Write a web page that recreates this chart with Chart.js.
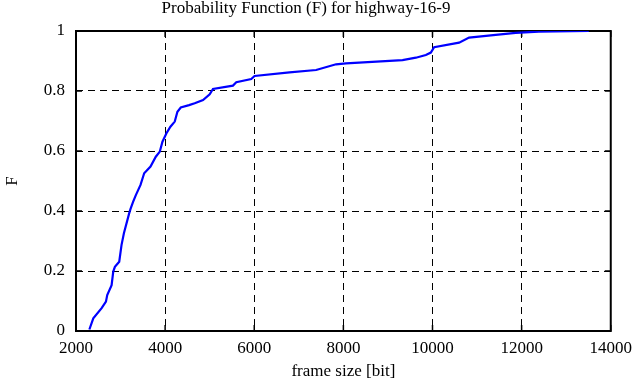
<!DOCTYPE html>
<html>
<head>
<meta charset="utf-8">
<script src="https://cdn.jsdelivr.net/npm/chart.js@4"></script>
<style>
  html, body { margin: 0; padding: 0; background: #fff; }
</style>
</head>
<body>
<canvas id="myChart" width="639" height="387"></canvas>
<script>
const frameSizes = [2300, 2388, 2575, 2672, 2701, 2799, 2836, 2873, 2970, 3022,
    3075, 3193, 3224, 3283, 3343, 3448, 3530, 3672, 3791, 3881,
    3940, 4030, 4119, 4216, 4276, 4351, 4537, 4664, 4851, 5000,
    5074, 5522, 5597, 5933, 6007, 6791, 7388, 7836, 8060, 9328,
    9627, 9851, 9963, 10037, 10597, 10821, 11418, 11866, 12388, 13507];
const probs = [0.005, 0.042, 0.076, 0.098, 0.120, 0.153, 0.198, 0.214, 0.231, 0.287,
    0.326, 0.392, 0.407, 0.431, 0.453, 0.487, 0.526, 0.548, 0.581, 0.598,
    0.631, 0.659, 0.681, 0.698, 0.731, 0.745, 0.753, 0.759, 0.770, 0.789,
    0.807, 0.818, 0.829, 0.840, 0.850, 0.862, 0.870, 0.889, 0.892, 0.903,
    0.911, 0.920, 0.928, 0.946, 0.961, 0.978, 0.987, 0.994, 0.998, 1.0];
const xTicks = [2000, 4000, 6000, 8000, 10000, 12000, 14000];
const yTicks = [0, 0.2, 0.4, 0.6, 0.8, 1];

const serif = "'Liberation Serif', 'Times New Roman', serif";

// frame round the plot + small inward tick marks (gnuplot look)
const framePlugin = {
    id: 'frame',
    beforeDatasetsDraw(chart) {
        const {ctx, chartArea: a, scales} = chart;
        ctx.save();
        ctx.strokeStyle = '#000';
        ctx.lineWidth = 2;
        ctx.strokeRect(a.left, a.top, a.right - a.left, a.bottom - a.top);
        ctx.lineWidth = 1.5;
        ctx.beginPath();
        xTicks.forEach(v => {
            const px = scales.x.getPixelForValue(v);
            ctx.moveTo(px, a.bottom); ctx.lineTo(px, a.bottom - 6);
            ctx.moveTo(px, a.top); ctx.lineTo(px, a.top + 6);
        });
        yTicks.forEach(v => {
            const py = scales.y.getPixelForValue(v);
            ctx.moveTo(a.left, py); ctx.lineTo(a.left + 6, py);
            ctx.moveTo(a.right, py); ctx.lineTo(a.right - 6, py);
        });
        ctx.stroke();
        ctx.restore();
    }
};

const ctx = document.getElementById('myChart').getContext('2d');
const myChart = new Chart(ctx, {
    type: 'line',
    data: {
        datasets: [{
            data: frameSizes.map((x, i) => ({x: x, y: probs[i]})),
            borderColor: '#0000ff',
            backgroundColor: '#0000ff',
            borderWidth: 2.2,
            pointRadius: 0,
            fill: false,
            tension: 0
        }]
    },
    options: {
        responsive: false,
        animation: false,
        devicePixelRatio: 1,
        layout: { padding: { left: 0, right: 27, top: 0, bottom: 0 } },
        plugins: {
            legend: { display: false },
            tooltip: { enabled: false },
            title: {
                display: true,
                text: 'Probability Function (F) for highway-16-9',
                color: '#000',
                font: { family: serif, size: 17, weight: 'normal', lineHeight: 1 },
                padding: { top: 0, bottom: 14 }
            }
        },
        scales: {
            x: {
                type: 'linear',
                min: 2000,
                max: 14000,
                afterBuildTicks: axis => { axis.ticks = xTicks.map(v => ({value: v})); },
                afterFit: axis => { axis.height = 56; },
                grid: { color: '#000', lineWidth: 1, drawTicks: false },
                border: { display: false, dash: [7, 5] },
                ticks: {
                    color: '#000',
                    padding: 7,
                    maxRotation: 0,
                    font: { family: serif, size: 17 },
                    callback: v => String(v)
                },
                title: {
                    display: true,
                    text: 'frame size [bit]',
                    color: '#000',
                    font: { family: serif, size: 17 },
                    padding: { top: 0, bottom: 5 }
                }
            },
            y: {
                min: 0,
                max: 1,
                afterBuildTicks: axis => { axis.ticks = yTicks.map(v => ({value: v})); },
                afterFit: axis => { axis.width = 76; },
                grid: { color: '#000', lineWidth: 1, drawTicks: false },
                border: { display: false, dash: [7, 5] },
                ticks: {
                    color: '#000',
                    padding: 11,
                    font: { family: serif, size: 17 },
                    callback: v => String(v)
                },
                title: {
                    display: true,
                    text: 'F',
                    color: '#000',
                    font: { family: serif, size: 17 },
                    padding: { top: 2, bottom: 0 }
                }
            }
        }
    },
    plugins: [framePlugin]
});
</script>
</body>
</html>
